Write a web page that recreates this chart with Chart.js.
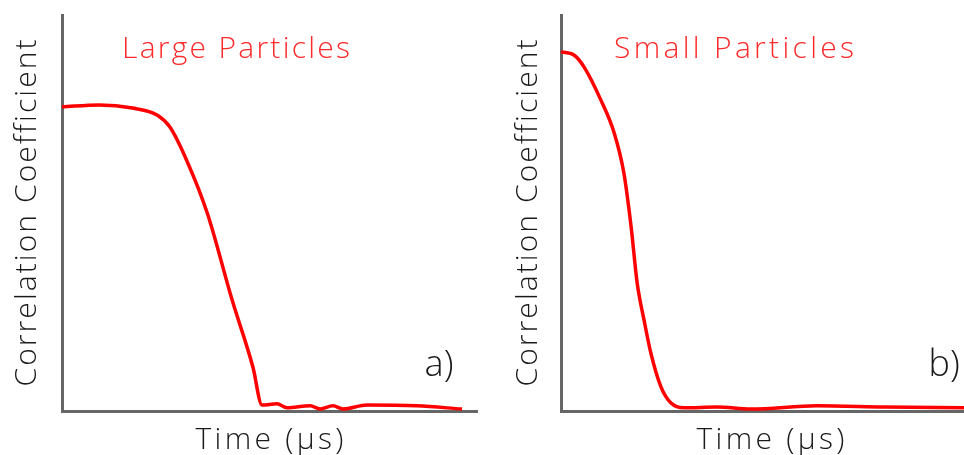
<!DOCTYPE html>
<html>
<head>
<meta charset="utf-8">
<script src="https://cdn.jsdelivr.net/npm/chart.js@4"></script>
<style>
  body { margin: 0; background: #fff; }
  #wrap { position: relative; width: 964px; height: 455px; }
  .box { position: absolute; top: 0; width: 482px; height: 455px; }
</style>
</head>
<body>
<div id="wrap">
  <div class="box" style="left:0"><canvas id="graficoGrandes"></canvas></div>
  <div class="box" style="left:482px"><canvas id="graficoPequenas"></canvas></div>
</div>
<script>
// large particles, panel a)
var tempoGrandes = [0, 9, 17, 23, 26, 30, 35, 41, 46, 48.2, 51.8, 54.2, 59.8, 62.2, 65.3, 67.7, 73.5, 85.5, 96.4];
var corrGrandes = [0.768, 0.773, 0.765, 0.747, 0.717, 0.634, 0.500, 0.280, 0.111, 0.015, 0.018, 0.008, 0.013, 0.005, 0.013, 0.005, 0.015, 0.013, 0.005];

// small particles, panel b)
var tempoPequenas = [0, 3.2, 5.7, 9.9, 13.2, 15.6, 17.4, 18.9, 20.6, 22.3, 24.8, 27.3, 30.5, 38.7, 47.1, 63.5, 80.1, 100];
var corrPequenas = [0.907, 0.899, 0.869, 0.785, 0.702, 0.601, 0.465, 0.323, 0.230, 0.146, 0.061, 0.020, 0.008, 0.010, 0.005, 0.013, 0.010, 0.008];

var textos = {
  grandes: 'Large Particles',
  pequenas: 'Small Particles',
  eixoY: 'Correlation Coefficient',
  eixoX: 'Time (µs)'
};

var fonte = '"Open Sans", "DejaVu Sans", sans-serif';

// draws text centered on (cx, cy) spread out to a given width
function escreveLargo(ctx, texto, cx, cy, largura) {
  ctx.letterSpacing = '0px';
  var w = ctx.measureText(texto).width;
  var extra = (largura - w) / (texto.length - 1);
  if (extra < 0) extra = 0;
  ctx.letterSpacing = extra + 'px';
  ctx.textAlign = 'left';
  ctx.fillText(texto, cx - largura / 2, cy);
  ctx.letterSpacing = '0px';
}

// writes the titles and axis names around the chart area
var escritas = {
  id: 'escritas',
  afterDraw: function (chart, args, o) {
    var ctx = chart.ctx;
    var a = chart.chartArea;
    ctx.save();
    ctx.textBaseline = 'middle';

    ctx.fillStyle = '#ff2a2a';
    ctx.font = '300 30px ' + fonte;
    escreveLargo(ctx, o.titulo, a.left + o.tituloX, 49, o.tituloW);

    ctx.fillStyle = '#1a1a1a';
    ctx.font = '300 30px ' + fonte;
    escreveLargo(ctx, textos.eixoX, (a.left + a.right) / 2 + o.eixoXdx, 440, 148);

    ctx.font = '300 36px ' + fonte;
    escreveLargo(ctx, o.letra, o.letraX, 366, 29);

    ctx.translate(a.left + o.eixoYdx, (a.top + a.bottom) / 2);
    ctx.rotate(-Math.PI / 2);
    ctx.font = '300 30px ' + fonte;
    escreveLargo(ctx, textos.eixoY, 0, 0, 347);
    ctx.restore();
  }
};

function eixo() {
  return {
    type: 'linear',
    display: true,
    grid: { display: false, drawTicks: false },
    ticks: { display: false },
    border: { display: true, color: '#666666', width: 3 }
  };
}

function montaGrafico(id, tempo, corr, pad, extra) {
  var pontos = [];
  for (var i = 0; i < tempo.length; i++) {
    pontos.push({ x: tempo[i], y: corr[i] });
  }
  var x = eixo();
  x.min = 0; x.max = 100;
  var y = eixo();
  y.min = 0; y.max = 1;
  return new Chart(document.getElementById(id), {
    type: 'line',
    data: {
      datasets: [{
        data: pontos,
        borderColor: '#ff0000',
        borderWidth: 3.5,
        pointRadius: 0,
        tension: 0.3,
        cubicInterpolationMode: 'monotone',
        clip: false,
        fill: false
      }]
    },
    options: {
      responsive: true,
      maintainAspectRatio: false,
      animation: false,
      layout: { padding: pad },
      scales: { x: x, y: y },
      plugins: {
        legend: { display: false },
        tooltip: { enabled: false },
        escritas: extra
      }
    },
    plugins: [escritas]
  });
}

montaGrafico('graficoGrandes', tempoGrandes, corrGrandes,
  { left: 62, top: 15, right: 5, bottom: 44 },
  { titulo: textos.grandes, tituloX: 174, tituloW: 228, eixoXdx: 0, eixoYdx: -35, letra: 'a)', letraX: 439 });

montaGrafico('graficoPequenas', tempoPequenas, corrPequenas,
  { left: 79, top: 15, right: 0, bottom: 44 },
  { titulo: textos.pequenas, tituloX: 173, tituloW: 240, eixoXdx: 8, eixoYdx: -33, letra: 'b)', letraX: 461 });
</script>
</body>
</html>
